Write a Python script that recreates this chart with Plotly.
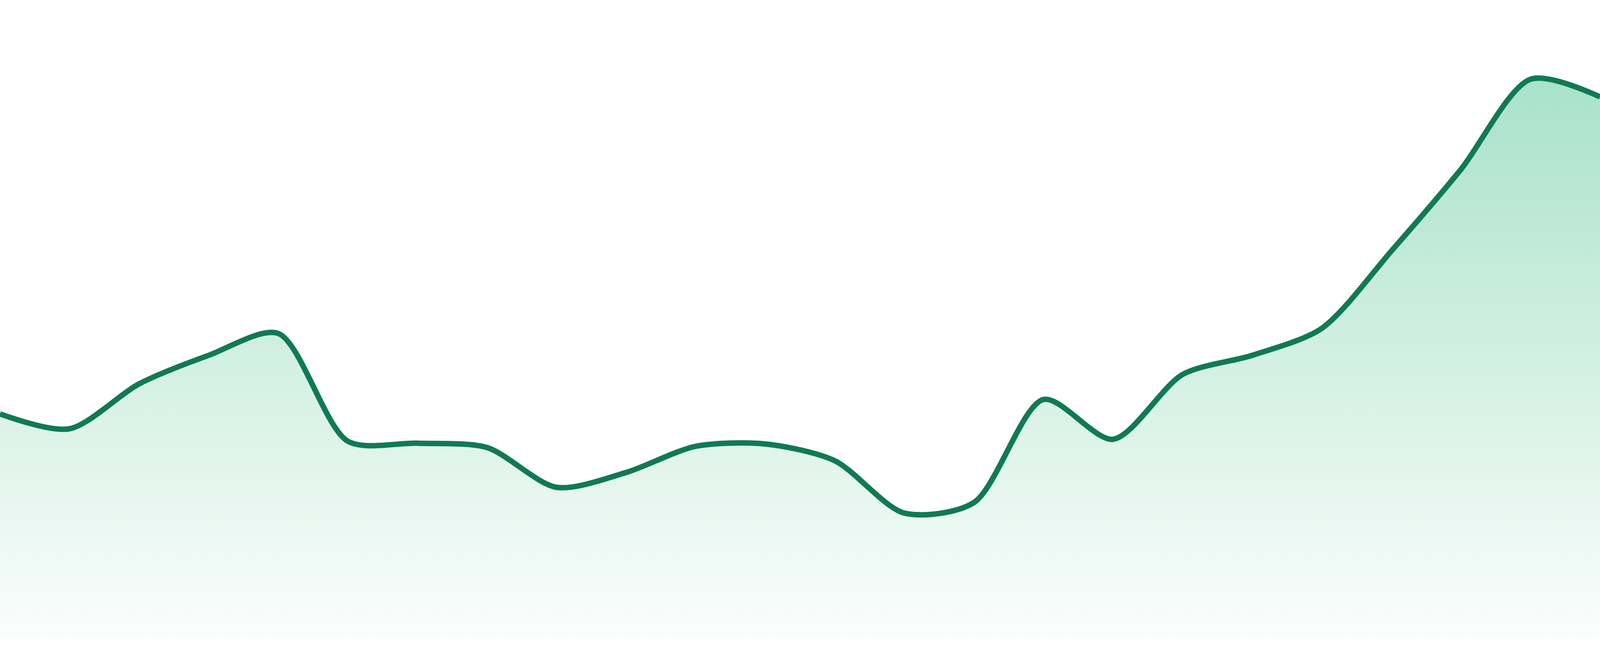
import plotly.graph_objects as go

# one point per day, 24 days
days = list(range(24))
values = [57.2, 53.4, 64.9, 72.2, 77.8, 50.2, 49.7, 48.6, 38.4, 42.2, 48.9, 49.5,
          45.2, 31.8, 34.5, 60.9, 50.7, 67.3, 72.2, 79.1, 98.9, 119.8, 142.9, 138.4]

line_color = "#107a53"

fig = go.Figure()
fig.add_trace(go.Scatter(
    x=days, y=values,
    mode="lines",
    line=dict(color=line_color, width=14, shape="spline", smoothing=0.8),
    fill="tozeroy",
    fillgradient=dict(
        type="vertical",
        colorscale=[[0, "rgba(50,185,128,0.02)"], [1, "rgba(50,185,128,0.42)"]],
    ),
    hoverinfo="skip",
))

# no fixed size: let the figure fill the whole window
fig.update_layout(
    autosize=True,
    margin=dict(l=0, r=0, t=0, b=0),
    paper_bgcolor="white", plot_bgcolor="white",
    showlegend=False,
    xaxis=dict(visible=False, range=[0, 23]),
    yaxis=dict(visible=False, range=[-4.8, 163.2]),
)

# drop the page margin so the plot touches the window edges
fit_page = (
    "document.documentElement.style.height='100%';"
    "document.body.style.margin='0';"
    "document.body.style.height='100%';"
    "document.body.style.overflow='hidden';"
    "var gd=document.getElementById('{plot_id}');"
    "gd.parentElement.style.height='100%';"
    "gd.style.height='100%';"
    "Plotly.Plots.resize(gd);"
)

fig.write_html("out.html", config={"responsive": True, "displayModeBar": False},
               post_script=fit_page)
